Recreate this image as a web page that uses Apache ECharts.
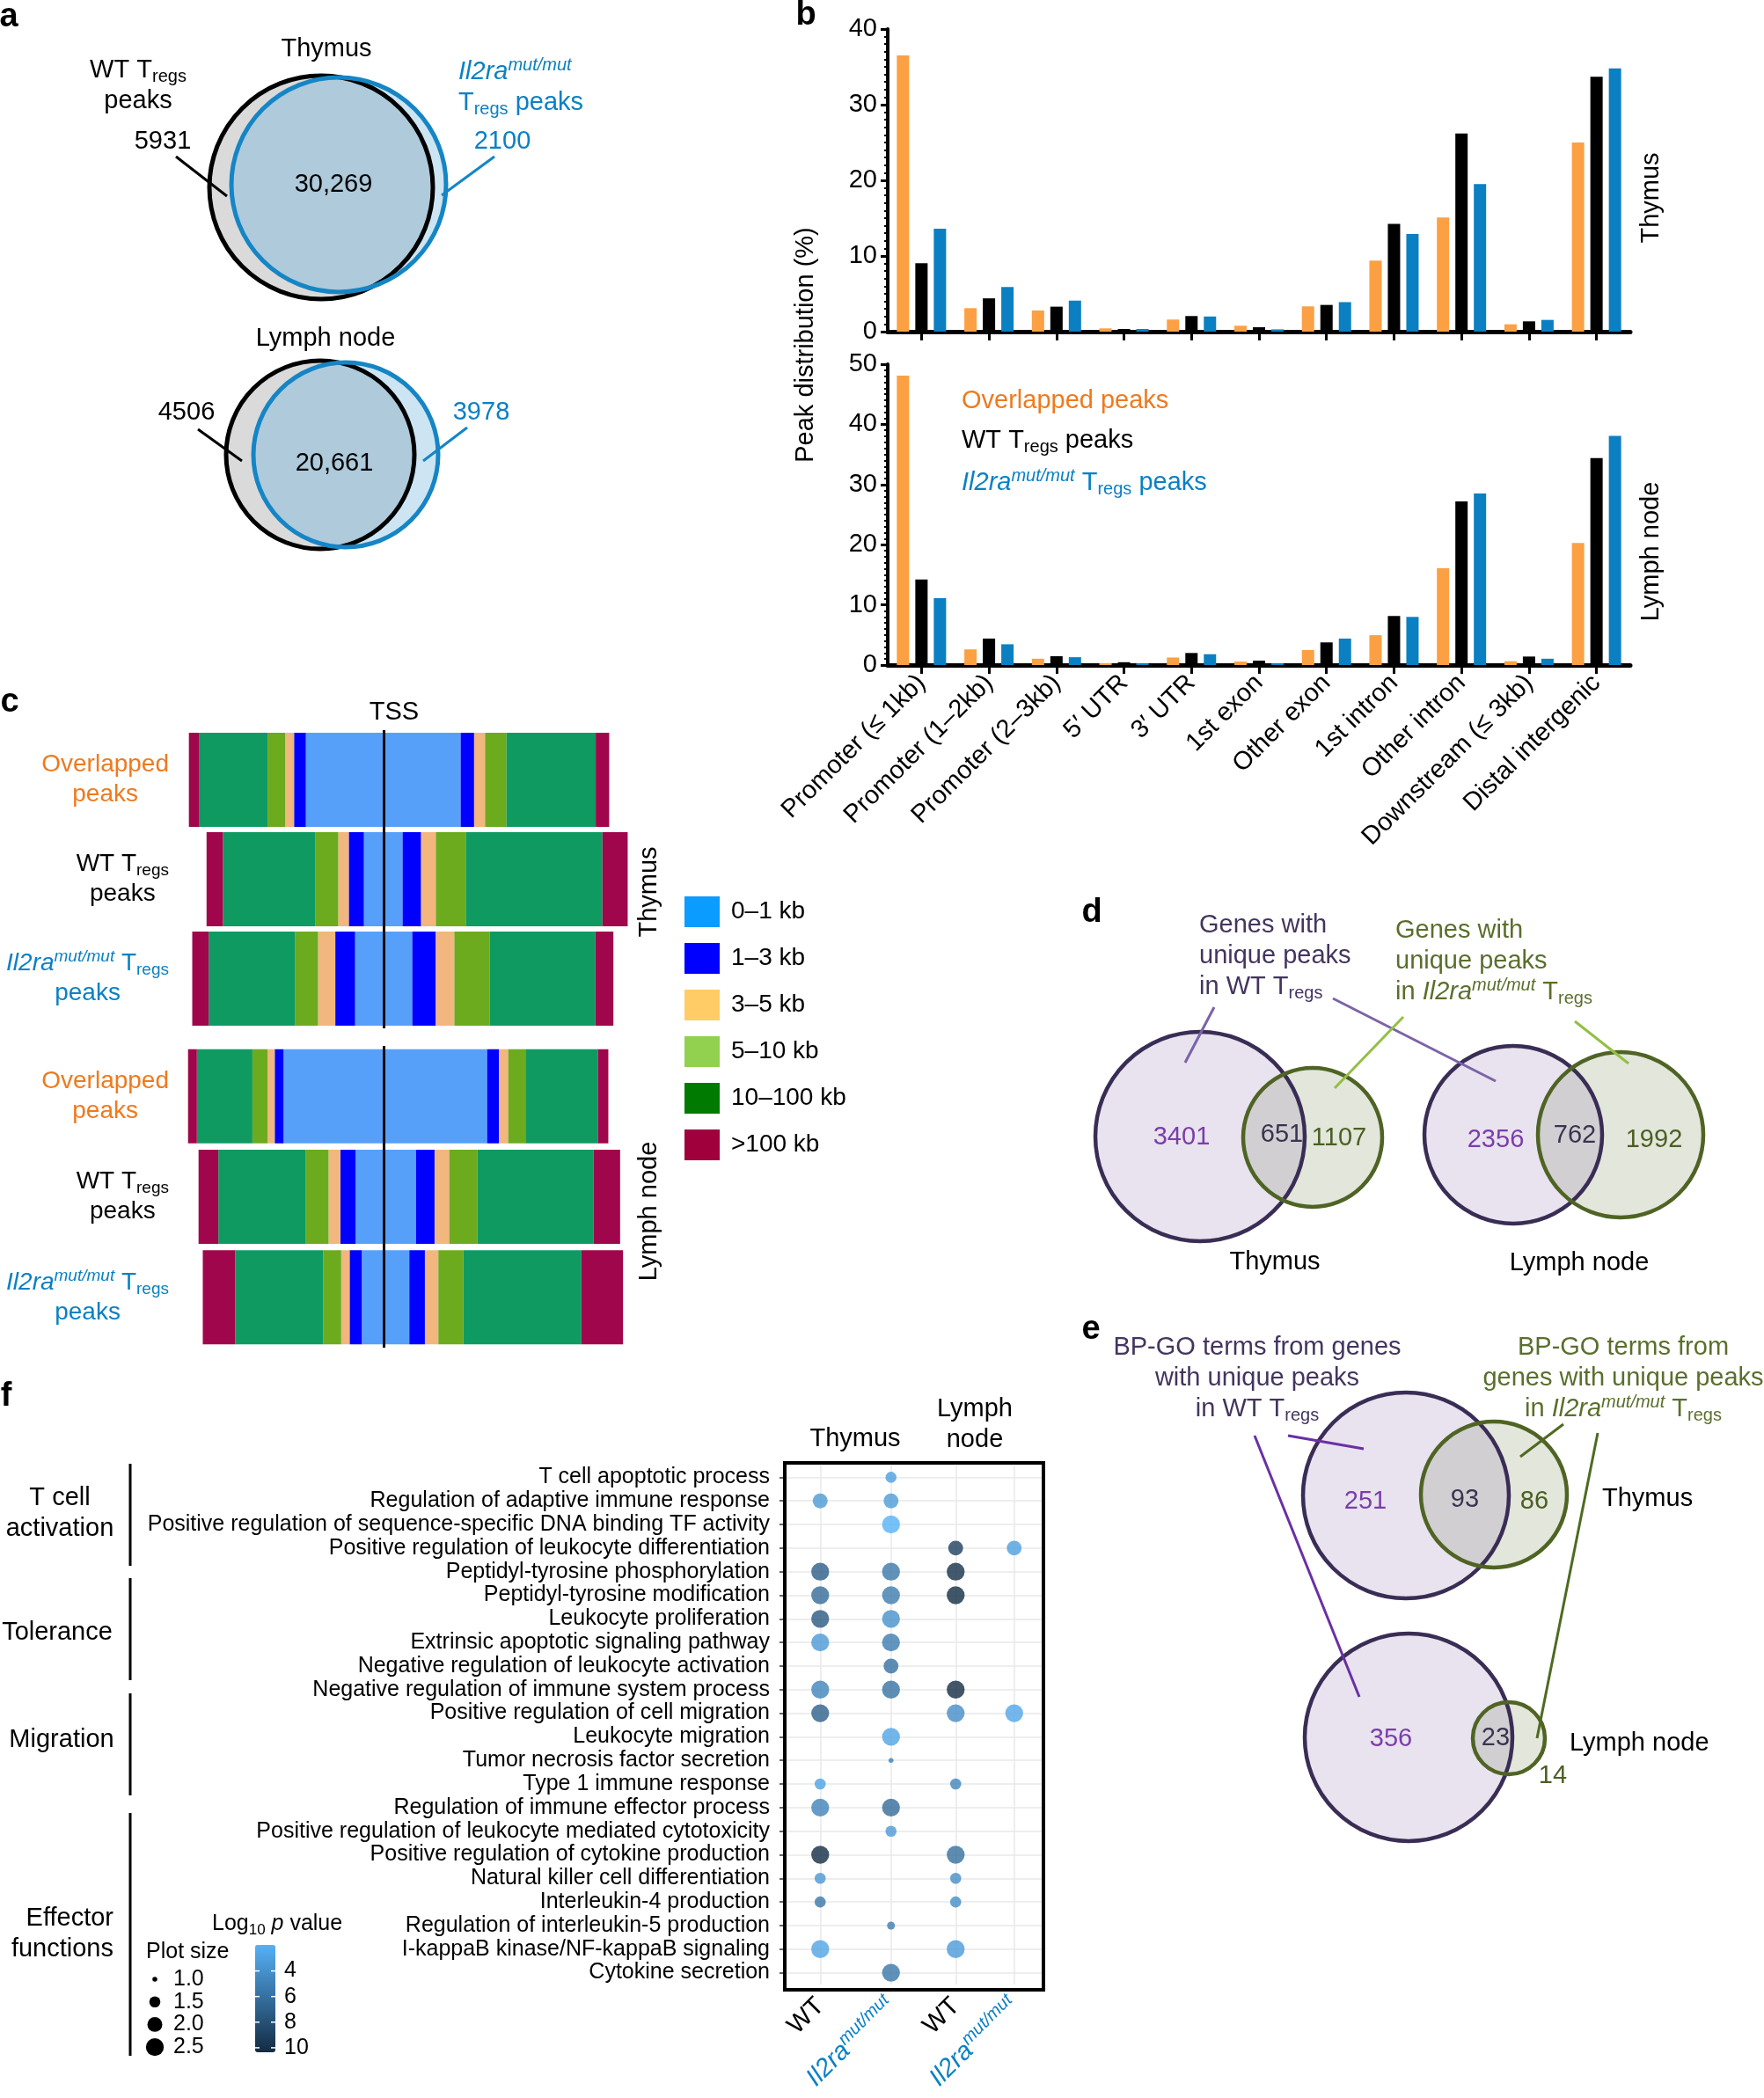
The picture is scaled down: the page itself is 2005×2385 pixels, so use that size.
<!DOCTYPE html>
<html><head><meta charset="utf-8">
<script src="https://cdn.jsdelivr.net/npm/echarts/dist/echarts.min.js"></script>
<style>html,body{margin:0;padding:0;background:#fff}#c{width:2005px;height:2385px}</style>
</head><body><div id="c"></div>
<script>
// ---------------- DATA ----------------
// panel a
const aThymusCounts = [5931, 30269, 2100];   // WT only, shared, Il2ra only
const aLymphCounts = [4506, 20661, 3978];
// panel b
const bCategories = ['Promoter (≤ 1kb)', 'Promoter (1–2kb)', 'Promoter (2–3kb)', '5′ UTR', '3′ UTR', '1st exon', 'Other exon', '1st intron', 'Other intron', 'Downstream (≤ 3kb)', 'Distal intergenic'];
const bSeriesNames = ['Overlapped peaks', 'WT Tregs peaks', 'Il2ra Tregs peaks'];
const bThymusOverlapped = [36.5, 3.1, 2.8, 0.43, 1.6, 0.78, 3.34, 9.4, 15.1, 0.97, 25.0];
const bThymusWT = [9.05, 4.4, 3.3, 0.35, 2.06, 0.58, 3.53, 14.25, 26.2, 1.36, 33.7];
const bThymusMut = [13.6, 5.9, 4.1, 0.35, 2.0, 0.3, 3.9, 12.9, 19.5, 1.55, 34.8];
const bLymphOverlapped = [48.1, 2.6, 1.05, 0.3, 1.25, 0.57, 2.5, 4.96, 16.1, 0.63, 20.3];
const bLymphWT = [14.2, 4.4, 1.46, 0.47, 2.0, 0.73, 3.76, 8.15, 27.2, 1.41, 34.4];
const bLymphMut = [11.1, 3.45, 1.3, 0.3, 1.8, 0.3, 4.4, 8.0, 28.5, 1.05, 38.1];
const bYTicksThymus = [0, 40, 10];
const bYTicksLymph = [0, 50, 10];
// panel c : % of peaks per distance bin, upstream (left of TSS) and downstream (right)
const cRows = ['Overlapped peaks', 'WT Tregs peaks', 'Il2ra Tregs peaks'];
const cBins = ['0–1 kb', '1–3 kb', '3–5 kb', '5–10 kb', '10–100 kb', '>100 kb'];
const cThymusUp = [[18.5, 2.8, 2.1, 4.2, 16.2, 2.5], [4.7, 3.6, 2.5, 5.5, 21.9, 3.9], [6.8, 4.7, 4.1, 5.5, 20.5, 3.9]];
const cThymusDown = [[18.3, 3.2, 2.6, 5.1, 21.2, 3.2], [4.5, 4.4, 3.5, 7.1, 32.5, 6.0], [6.8, 5.6, 4.4, 8.4, 25.1, 4.3]];
const cLymphUp = [[23.8, 2.1, 1.7, 3.6, 13.2, 2.1], [6.7, 3.6, 2.8, 5.5, 20.7, 4.7], [5.2, 2.9, 2.0, 4.3, 20.9, 7.7]];
const cLymphDown = [[24.6, 2.8, 2.2, 4.1, 17.2, 2.5], [7.7, 4.4, 3.5, 6.7, 27.6, 6.3], [6.1, 3.7, 3.2, 5.9, 28.1, 9.9]];
// panel d / e
const dThymusCounts = [3401, 651, 1107];
const dLymphCounts = [2356, 762, 1992];
const eThymusCounts = [251, 93, 86];
const eLymphCounts = [356, 23, 14];
// panel f
const fTerms = ['T cell apoptotic process', 'Regulation of adaptive immune response', 'Positive regulation of sequence-specific DNA binding TF activity', 'Positive regulation of leukocyte differentiation', 'Peptidyl-tyrosine phosphorylation', 'Peptidyl-tyrosine modification', 'Leukocyte proliferation', 'Extrinsic apoptotic signaling pathway', 'Negative regulation of leukocyte activation', 'Negative regulation of immune system process', 'Positive regulation of cell migration', 'Leukocyte migration', 'Tumor necrosis factor secretion', 'Type 1 immune response', 'Regulation of immune effector process', 'Positive regulation of leukocyte mediated cytotoxicity', 'Positive regulation of cytokine production', 'Natural killer cell differentiation', 'Interleukin-4 production', 'Regulation of interleukin-5 production', 'I-kappaB kinase/NF-kappaB signaling', 'Cytokine secretion'];
const fCols = ['WT', 'Il2ra'];
const fThymusWTSize = [null, 2.0, null, null, 2.5, 2.5, 2.5, 2.5, null, 2.5, 2.5, null, null, 1.5, 2.5, null, 2.5, 1.5, 1.5, null, 2.5, null];
const fThymusWTLogP = [null, 3.5, null, null, 7.2, 6.4, 7.5, 3.5, null, 4.8, 7.1, null, null, 3.0, 4.9, null, 10.3, 3.6, 5.7, null, 2.8, null];
const fThymusMutSize = [1.5, 2.0, 2.5, null, 2.5, 2.5, 2.5, 2.5, 2.0, 2.5, null, 2.5, 1.0, null, 2.5, 1.5, null, null, null, 1.2, null, 2.5];
const fThymusMutLogP = [3.1, 3.3, 2.0, null, 5.6, 5.3, 4.0, 5.3, 6.0, 5.9, null, 2.8, 5.0, null, 6.4, 3.5, null, null, null, 5.2, null, 5.7];
const fLymphWTSize = [null, null, null, 2.0, 2.5, 2.5, null, null, null, 2.5, 2.5, null, null, 1.5, null, null, 2.5, 1.5, 1.5, null, 2.5, null];
const fLymphWTLogP = [null, null, null, 9.1, 10.1, 10.3, null, null, null, 10.35, 4.3, null, null, 4.7, null, null, 6.1, 4.2, 4.2, null, 3.4, null];
const fLymphMutSize = [null, null, null, 2.0, null, null, null, null, null, null, 2.5, null, null, null, null, null, null, null, null, null, null, null];
const fLymphMutLogP = [null, null, null, 3.1, null, null, null, null, null, null, 2.7, null, null, null, null, null, null, null, null, null, null, null];
const fSizeLegend = [1.0, 1.5, 2.0, 2.5];
const fColorTicks = [4, 6, 8, 10];
const fLogPRange = [1.97, 10.35];

// ---------------- STYLE ----------------
const FONT = '"Liberation Sans", Arial, Helvetica, sans-serif';
const BLUE = '#0b80c4', ORANGE = '#ee7a1e', PURP = '#43355f', OLIVE = '#5a6f2c';
const FS = 29;
function R(p, color, fs, align) {
  const lh = Math.round(fs * 1.22), sfs = Math.round(fs * 0.68);
  const o = {};
  o[p] = {fontSize: fs, lineHeight: lh, color, fill: color, align, fontFamily: FONT};
  o[p + 'i'] = {fontSize: fs, lineHeight: lh, color, fill: color, align, fontStyle: 'italic', fontFamily: FONT};
  o[p + 'p'] = {fontSize: sfs, lineHeight: sfs, color, fill: color, align, fontStyle: 'italic', verticalAlign: 'top', fontFamily: FONT};
  o[p + 's'] = {fontSize: sfs, lineHeight: sfs, color, fill: color, align, verticalAlign: 'bottom', padding: [lh - sfs + 2, 0, 0, 0], fontFamily: FONT};
  return o;
}
function buildRich(align, fs) {
  return Object.assign({}, R('k', '#000', fs, align), R('o', ORANGE, fs, align), R('b', BLUE, fs, align),
    R('u', PURP, fs, align), R('g', OLIVE, fs, align), R('f', '#000', 25, align),
    R('n', '#7b3dab', fs, align), R('m', '#3b3350', fs, align), R('h', '#4b5f22', fs, align));
}
const RC = buildRich('center', FS), RL = buildRich('left', FS), RRt = buildRich('right', FS);
const RC28 = buildRich('center', 28);
const fmt = n => n >= 10000 ? n.toLocaleString('en-US') : String(n);

// ---------------- GRAPHICS ----------------
const G = [];
function txt(x, y, text, o) {
  o = o || {};
  const al = o.align || 'center';
  G.push({type: 'text', x, y, rotation: o.rot || 0, z: 20, silent: true,
    style: {text, rich: al === 'left' ? RL : (al === 'right' ? RRt : RC), fill: o.color || '#000',
      font: (o.weight || 'normal') + ' ' + (o.fs || FS) + 'px ' + FONT, align: al, verticalAlign: 'middle'}});
}
function circ(c, fill, stroke, lw) {
  G.push({type: 'circle', z: 1, silent: true, shape: {cx: c[0], cy: c[1], r: c[2]}, style: {fill: fill || 'none', stroke: stroke || null, lineWidth: lw || 0}});
}
function line(x1, y1, x2, y2, c, w) {
  G.push({type: 'line', z: 3, silent: true, shape: {x1, y1, x2, y2}, style: {stroke: c, lineWidth: w || 3}});
}
function lens(A, B) {
  const dx = B[0] - A[0], dy = B[1] - A[1], d = Math.hypot(dx, dy);
  const x = (d * d + A[2] * A[2] - B[2] * B[2]) / (2 * d);
  const base = Math.atan2(dy, dx);
  const tA = Math.acos(Math.max(-1, Math.min(1, x / A[2])));
  const tB = Math.acos(Math.max(-1, Math.min(1, (d - x) / B[2])));
  const pts = [], N = 120;
  for (let i = 0; i <= N; i++) { const t = base - tA + 2 * tA * i / N; pts.push([A[0] + A[2] * Math.cos(t), A[1] + A[2] * Math.sin(t)]); }
  for (let i = 0; i <= N; i++) { const t = base + Math.PI - tB + 2 * tB * i / N; pts.push([B[0] + B[2] * Math.cos(t), B[1] + B[2] * Math.sin(t)]); }
  return pts;
}
function venn(A, B, fa, fb, fl, sa, sb, lw) {
  circ(A, fa); circ(B, fb);
  G.push({type: 'polygon', z: 1, silent: true, shape: {points: lens(A, B)}, style: {fill: fl}});
  circ(A, 'none', sa, lw); circ(B, 'none', sb, lw);
}
const ROT = Math.PI / 2;
// panel letters
[['a', 10, 20], ['b', 916, 18], ['c', 11, 799], ['d', 1241, 1038], ['e', 1240, 1512], ['f', 7, 1588]].forEach(p => {
  G.push({type: 'text', x: p[1], y: p[2], z: 20, silent: true, style: {text: p[0], fill: '#000', font: 'bold 38px ' + FONT, align: 'center', verticalAlign: 'middle'}});
});
// panel a
venn([365, 213, 127], [385, 210, 122], '#dadada', '#cde5f3', '#aecadb', '#000', '#1585c5', 5);
venn([364, 517, 107], [393, 517, 105], '#dadada', '#cde5f3', '#aecadb', '#000', '#1585c5', 5);
txt(371, 56, '{k|Thymus}');
txt(157, 97, '{k|WT T}{ks|regs}\n{k|peaks}');
txt(521, 99, '{bi|Il2ra}{bp|mut/mut}\n{b|T}{bs|regs}{b| peaks}', {align: 'left'});
txt(185, 161, '{k|' + fmt(aThymusCounts[0]) + '}');
txt(379, 210, '{k|' + fmt(aThymusCounts[1]) + '}');
txt(571, 161, '{b|' + fmt(aThymusCounts[2]) + '}');
line(200, 178, 258, 223, '#000', 3); line(562, 178, 502, 222, '#1585c5', 3);
txt(370, 385, '{k|Lymph node}');
txt(212, 469, '{k|' + fmt(aLymphCounts[0]) + '}');
txt(380, 527, '{k|' + fmt(aLymphCounts[1]) + '}');
txt(547, 469, '{b|' + fmt(aLymphCounts[2]) + '}');
line(225, 488, 275, 524, '#000', 3); line(531, 486, 481, 524, '#1585c5', 3);
// panel b texts
txt(916, 392, '{k|Peak distribution (%)}', {rot: ROT});
txt(1877, 225, '{k|Thymus}', {rot: ROT});
txt(1877, 627, '{k|Lymph node}', {rot: ROT});
// panel c texts
txt(448, 810, '{k|TSS}');
txt(738, 1014, '{k|Thymus}', {rot: ROT});
txt(738, 1377, '{k|Lymph node}', {rot: ROT});
// panel d
const PF = '#e8e3ee', GF = '#e2e6db', LF = '#d1cfd2', PS = '#3a2d55', GS = '#4f6424';
venn([1364, 1292, 119], [1492, 1293, 79], PF, GF, LF, PS, GS, 4.5);
venn([1720, 1290, 101], [1842, 1290, 94], PF, GF, LF, PS, GS, 4.5);
txt(1363, 1087, '{u|Genes with}\n{u|unique peaks}\n{u|in WT T}{us|regs}', {align: 'left'});
txt(1586, 1093, '{g|Genes with}\n{g|unique peaks}\n{g|in }{gi|Il2ra}{gp|mut/mut}{g| T}{gs|regs}', {align: 'left'});
line(1380, 1145, 1347, 1208, '#7b63a8', 3); line(1515, 1135, 1700, 1229, '#7b63a8', 3);
line(1595, 1156, 1517, 1237, '#93bf45', 3); line(1790, 1161, 1851, 1209, '#93bf45', 3);
txt(1343, 1293, '{n|' + dThymusCounts[0] + '}'); txt(1457, 1290, '{m|' + dThymusCounts[1] + '}'); txt(1522, 1294, '{h|' + dThymusCounts[2] + '}');
txt(1700, 1296, '{n|' + dLymphCounts[0] + '}'); txt(1790, 1291, '{m|' + dLymphCounts[1] + '}'); txt(1880, 1296, '{h|' + dLymphCounts[2] + '}');
txt(1449, 1435, '{k|Thymus}'); txt(1795, 1436, '{k|Lymph node}');
// panel e
venn([1598, 1700, 117], [1698, 1699, 83], PF, GF, LF, PS, GS, 4.5);
venn([1601, 1975, 118], [1715, 1976, 41], PF, GF, LF, PS, GS, 4.5);
txt(1429, 1567, '{u|BP-GO terms from genes}\n{u|with unique peaks}\n{u|in WT T}{us|regs}');
txt(1845, 1567, '{g|BP-GO terms from}\n{g|genes with unique peaks}\n{g|in }{gi|Il2ra}{gp|mut/mut}{g| T}{gs|regs}');
line(1464, 1632, 1550, 1647, '#6a2fa5', 3); line(1426, 1632, 1545, 1929, '#6a2fa5', 3);
line(1777, 1619, 1728, 1656, '#4f6a22', 3); line(1816, 1629, 1747, 1976, '#4f6a22', 3);
txt(1552, 1707, '{n|' + eThymusCounts[0] + '}'); txt(1665, 1705, '{m|' + eThymusCounts[1] + '}'); txt(1744, 1707, '{h|' + eThymusCounts[2] + '}');
txt(1581, 1977, '{n|' + eLymphCounts[0] + '}'); txt(1700, 1976, '{m|' + eLymphCounts[1] + '}'); txt(1765, 2019, '{h|' + eLymphCounts[2] + '}');
txt(1821, 1704, '{k|Thymus}', {align: 'left'}); txt(1784, 1982, '{k|Lymph node}', {align: 'left'});
// panel f
txt(68, 1720, '{k|T cell}\n{k|activation}');
txt(65, 1856, '{k|Tolerance}');
txt(70, 1978, '{k|Migration}');
txt(129, 2198, '{k|Effector}\n{k|functions}', {align: 'right'});
line(148, 1664, 148, 1780, '#000', 3); line(148, 1794, 148, 1910, '#000', 3);
line(148, 1925, 148, 2041, '#000', 3); line(148, 2061, 148, 2337, '#000', 3);
txt(972, 1636, '{k|Thymus}');
txt(1108, 1619, '{k|Lymph}\n{k|node}');
G.push({type: 'rect', z: 50, silent: true, shape: {x: 892, y: 1663, width: 294, height: 599}, style: {fill: 'none', stroke: '#000', lineWidth: 4}});
const sizePx = s => 16 * Math.sqrt(s - 0.88);
txt(166, 2219, '{f|Plot size}', {align: 'left'});
fSizeLegend.forEach((s, i) => {
  const y = 2250 + i * 25.7;
  circ([176, y, sizePx(s) / 2], '#000');
  txt(197, y, '{f|' + s.toFixed(1) + '}', {align: 'left'});
});
txt(241, 2187, '{f|Log}{fs|10}{f| }{fi|p}{f| value}', {align: 'left'});
const cbTop = 2211, cbH = 122;
fColorTicks.forEach(v => {
  const y = cbTop + (v - fLogPRange[0]) / (fLogPRange[1] - fLogPRange[0]) * cbH;
  txt(323, y, '{f|' + v + '}', {align: 'left'});
  G.push({type: 'line', z: 30, silent: true, shape: {x1: 290, y1: y, x2: 295, y2: y}, style: {stroke: '#fff', lineWidth: 1.5}});
  G.push({type: 'line', z: 30, silent: true, shape: {x1: 308, y1: y, x2: 313, y2: y}, style: {stroke: '#fff', lineWidth: 1.5}});
});

// ---------------- SERIES ----------------
const series = [];
const bColors = ['#fca044', '#000000', '#0a80c2'];
[[bThymusOverlapped, bThymusWT, bThymusMut], [bLymphOverlapped, bLymphWT, bLymphMut]].forEach((set, g) => {
  set.forEach((d, i) => series.push({type: 'bar', name: bSeriesNames[i], xAxisIndex: g, yAxisIndex: g, data: d,
    barWidth: 14, barGap: '50%', itemStyle: {color: bColors[i]}, silent: true}));
});
const cBarColors = ['#57a0fa', '#0000fe', '#f2b67f', '#6cab1e', '#0f9a62', '#a0064b'];
const cLegendColors = ['#0a9cff', '#0000ff', '#ffcc66', '#92d050', '#007a00', '#a0003c'];
[[cThymusUp, cThymusDown], [cLymphUp, cLymphDown]].forEach((pair, g) => {
  pair.forEach((side, s) => {
    cBins.forEach((bin, b) => {
      const ser = {type: 'bar', name: bin, xAxisIndex: 2 + g, yAxisIndex: 2 + g, stack: 'c' + g, barWidth: 107,
        data: side.map(row => s === 0 ? -row[b] : row[b]), itemStyle: {color: cBarColors[b]}, silent: true};
      if (s === 1 && b === 0) ser.markLine = {silent: true, symbol: 'none', label: {show: false}, lineStyle: {color: '#000', width: 3, type: 'solid'}, data: [{xAxis: 0}], animation: false};
      series.push(ser);
    });
  });
});
function fData(sizes, logp, col) {
  const out = [];
  fTerms.forEach((t, i) => { if (sizes[i] != null) out.push([col, t, sizes[i], logp[i]]); });
  return out;
}
const fSeriesStart = series.length;
series.push({type: 'scatter', xAxisIndex: 4, yAxisIndex: 4, silent: true, symbol: 'circle', z: 5,
  data: fData(fThymusWTSize, fThymusWTLogP, 'WT').concat(fData(fThymusMutSize, fThymusMutLogP, 'Il2ra')),
  symbolSize: v => sizePx(v[2])});
series.push({type: 'scatter', xAxisIndex: 5, yAxisIndex: 5, silent: true, symbol: 'circle', z: 5,
  data: fData(fLymphWTSize, fLymphWTLogP, 'WT').concat(fData(fLymphMutSize, fLymphMutLogP, 'Il2ra')),
  symbolSize: v => sizePx(v[2])});

// ---------------- AXES ----------------
const cLabel = {'Overlapped peaks': '{o|Overlapped}\n{o|peaks}', 'WT Tregs peaks': '{k|WT T}{ks|regs}\n{k|peaks}', 'Il2ra Tregs peaks': '{bi|Il2ra}{bp|mut/mut}{b| T}{bs|regs}\n{b|peaks}'};
const fColLabel = {'WT': '{k|WT}', 'Il2ra': '{bi|Il2ra}{bp|mut/mut}'};
const bLegendText = {'Overlapped peaks': '{o|Overlapped peaks}', 'WT Tregs peaks': '{k|WT T}{ks|regs}{k| peaks}', 'Il2ra Tregs peaks': '{bi|Il2ra}{bp|mut/mut}{b| T}{bs|regs}{b| peaks}'};
const grid = [
  {left: 1009, top: 33, width: 844, height: 344},
  {left: 1009, top: 414, width: 844, height: 342},
  {left: 197, top: 830, width: 526, height: 339},
  {left: 197, top: 1189, width: 526, height: 343},
  {left: 892, top: 1666, width: 161, height: 590},
  {left: 1053, top: 1666, width: 133, height: 590}
].map(g => Object.assign({containLabel: false, outerBoundsMode: 'none'}, g));
const xAxis = [], yAxis = [];
[bYTicksThymus, bYTicksLymph].forEach((t, g) => {
  xAxis.push({type: 'category', gridIndex: g, data: bCategories,
    axisLine: {show: true, lineStyle: {color: '#000', width: 5}},
    axisTick: {show: true, alignWithLabel: true, interval: 0, length: 10, lineStyle: {color: '#000', width: 3}},
    axisLabel: {show: g === 1, rotate: 45, interval: 0, fontSize: 29, color: '#000', margin: 16, fontFamily: FONT},
    splitLine: {show: false}});
  yAxis.push({type: 'value', gridIndex: g, min: t[0], max: t[1], interval: t[2],
    axisLine: {show: true, lineStyle: {color: '#000', width: 4}},
    axisTick: {show: true, length: 8, lineStyle: {color: '#000', width: 3}},
    minorTick: {show: true, splitNumber: 10, length: 4, lineStyle: {color: '#000', width: 2}},
    splitLine: {show: false}, minorSplitLine: {show: false},
    axisLabel: {fontSize: 29, color: '#000', margin: 12, fontFamily: FONT}});
});
[0, 1].forEach(g => {
  xAxis.push({type: 'value', gridIndex: 2 + g, min: -50, max: 60, show: false});
  yAxis.push({type: 'category', gridIndex: 2 + g, data: cRows, inverse: true,
    axisLine: {show: false, onZero: false}, axisTick: {show: false}, splitLine: {show: false},
    axisLabel: {formatter: v => cLabel[v], rich: RC28, margin: 5, align: 'right', interval: 0}});
});
[0, 1].forEach(g => {
  xAxis.push({type: 'category', gridIndex: 4 + g, data: fCols, position: 'bottom',
    axisLine: {show: false}, axisTick: {show: false},
    splitLine: {show: true, alignWithLabel: true, interval: 0, lineStyle: {color: '#e9e9e9', width: 1.5}},
    axisLabel: {rotate: 45, interval: 0, margin: 20, formatter: v => fColLabel[v], rich: RC}});
  yAxis.push({type: 'category', gridIndex: 4 + g, data: fTerms, inverse: true,
    axisLine: {show: false},
    axisTick: {show: g === 0, alignWithLabel: true, interval: 0, length: 6, lineStyle: {color: '#333', width: 1.5}},
    splitLine: {show: true, alignWithLabel: true, interval: 0, lineStyle: {color: '#e9e9e9', width: 1.5}},
    axisLabel: {show: g === 0, fontSize: 25, color: '#000', margin: 17, interval: 0, fontFamily: FONT}});
});

const option = {
  animation: false,
  backgroundColor: '#fff',
  textStyle: {fontFamily: FONT},
  grid, xAxis, yAxis, series,
  legend: [
    {orient: 'vertical', left: 1083, top: 436, itemWidth: 0, itemHeight: 0, itemGap: 11, selectedMode: false,
      data: bSeriesNames, formatter: n => bLegendText[n], textStyle: {rich: RL, fontSize: FS}},
    {orient: 'vertical', left: 773, top: 1014, itemWidth: 40, itemHeight: 35, itemGap: 18, selectedMode: false,
      data: cBins.map((n, i) => ({name: n, icon: 'rect', itemStyle: {color: cLegendColors[i], borderWidth: 0}})),
      textStyle: {fontSize: 28, color: '#000', fontFamily: FONT, padding: [0, 0, 0, 8]}}
  ],
  visualMap: [{type: 'continuous', seriesIndex: [fSeriesStart, fSeriesStart + 1], dimension: 3,
    min: fLogPRange[0], max: fLogPRange[1], inRange: {color: ['#56B1F7', '#132B43']},
    inverse: true, orient: 'vertical', left: 290, top: cbTop, itemWidth: 23, itemHeight: cbH,
    calculable: false, padding: 0, showLabel: false, hoverLink: false, textStyle: {fontSize: 1, color: 'rgba(0,0,0,0)'}}],
  graphic: {elements: G}
};
const chart = echarts.init(document.getElementById('c'), null, {renderer: 'canvas', width: 2005, height: 2385});
chart.setOption(option);
</script></body></html>
